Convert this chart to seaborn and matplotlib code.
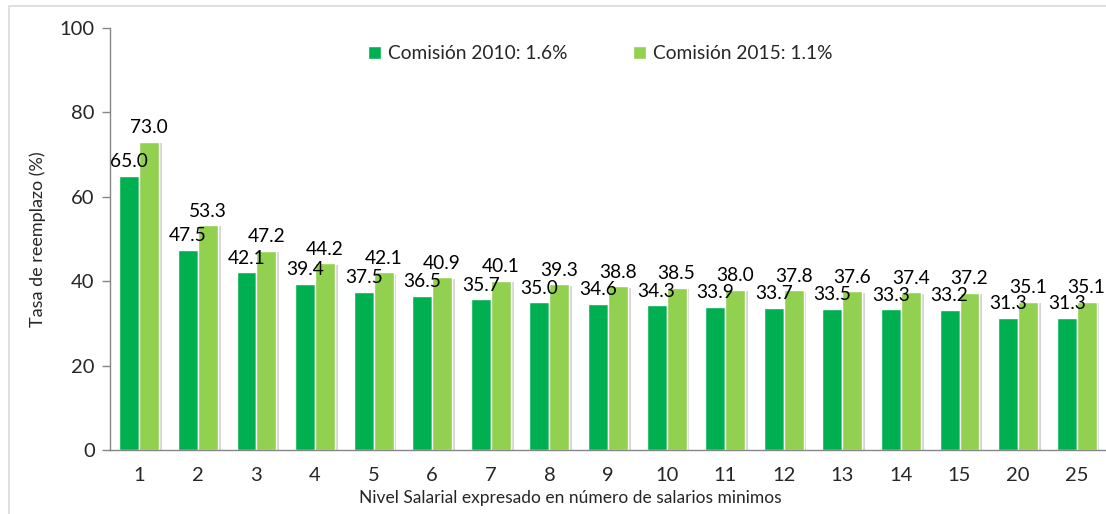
import matplotlib
matplotlib.use("Agg")
import matplotlib.pyplot as plt
import matplotlib.patheffects as pe
import pandas as pd
import seaborn as sns
from matplotlib.patches import Rectangle

niveles = ["1", "2", "3", "4", "5", "6", "7", "8", "9", "10",
           "11", "12", "13", "14", "15", "20", "25"]
comision_2010 = [65.0, 47.5, 42.1, 39.4, 37.5, 36.5, 35.7, 35.0, 34.6,
                 34.3, 33.9, 33.7, 33.5, 33.3, 33.2, 31.3, 31.3]
comision_2015 = [73.0, 53.3, 47.2, 44.2, 42.1, 40.9, 40.1, 39.3, 38.8,
                 38.5, 38.0, 37.8, 37.6, 37.4, 37.2, 35.1, 35.1]
series = ["Comisión 2010: 1.6%", "Comisión 2015: 1.1%"]
colores = ["#00B050", "#92D050"]

df = pd.concat([
    pd.DataFrame({"nivel": niveles, "tasa": comision_2010, "serie": series[0]}),
    pd.DataFrame({"nivel": niveles, "tasa": comision_2015, "serie": series[1]}),
])

sns.set_style("white")
plt.rcParams["font.family"] = ["Lato", "DejaVu Sans"]

fig = plt.figure(figsize=(11.06, 5.14), dpi=100)
# light frame around the whole chart (cropped at the right/bottom in the original)
fig.patches.append(Rectangle((9 / 1106, -0.1), 1.2, 1.1 - 6 / 514,
                             transform=fig.transFigure, fill=False,
                             edgecolor="#d9d9d9", linewidth=1.2))
ax = fig.add_axes([110 / 1106, 64 / 514, 1 - 110 / 1106, 422 / 514])

sns.barplot(data=df, x="nivel", y="tasa", hue="serie", order=niveles,
            hue_order=series, palette=colores, width=0.68, gap=0,
            saturation=1, ax=ax, legend=True)

shadow = [pe.SimplePatchShadow(offset=(2, -1), shadow_rgbFace="#777777", alpha=0.3), pe.Normal()]
for cont in ax.containers:
    for bar in cont:
        bar.set_path_effects(shadow)
    ax.bar_label(cont, fmt="%.1f", padding=4, fontsize=13.8, color="black")

ax.set_ylim(0, 100)
ax.set_yticks(range(0, 101, 20))
ax.set_xlim(-0.5, 16.5)

ax.set_xticks(range(len(niveles)))
ax.set_xticklabels(niveles)
ax.set_xticks([i + 0.5 for i in range(-1, len(niveles) - 1)], minor=True)
ax.tick_params(axis="x", which="major", length=0, pad=12, labelsize=14.5)
ax.tick_params(axis="x", which="minor", length=6, color="#868686", width=1)
ax.tick_params(axis="y", length=6, color="#868686", width=1, labelsize=14.5, pad=5, left=True)

for s in ["top", "right"]:
    ax.spines[s].set_visible(False)
for s in ["left", "bottom"]:
    ax.spines[s].set_color("#868686")
    ax.spines[s].set_linewidth(1)

ax.set_xlabel("Nivel Salarial expresado en número de salarios minimos", fontsize=12.5)
ax.xaxis.set_label_coords(0.462, -0.095)
ax.set_ylabel("Tasa de reemplazo (%)", fontsize=13, labelpad=10)

ax.legend(loc="upper center", bbox_to_anchor=(0.492, 1.0), ncol=2, frameon=False,
          fontsize=13.8, handlelength=0.7, handleheight=0.7, handletextpad=0.35,
          columnspacing=3.4)

fig.savefig("out.png", dpi=100)
